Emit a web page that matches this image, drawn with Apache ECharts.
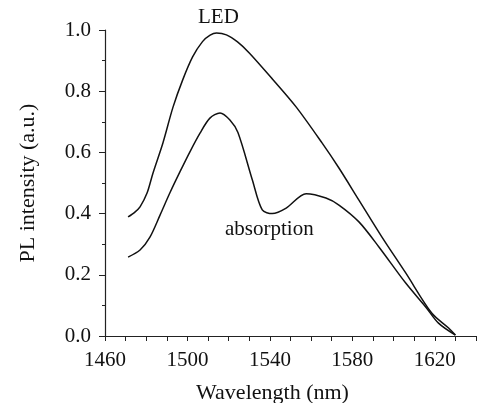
<!DOCTYPE html>
<html>
<head>
<meta charset="utf-8">
<script src="https://cdn.jsdelivr.net/npm/echarts@6/dist/echarts.min.js"></script>
<style>html,body{margin:0;padding:0;background:#fff}#c{width:477px;height:403px}</style>
</head>
<body>
<div id="c"></div>
<script>
const ledWavelength = [1471.2,1474.5,1477.0,1480.4,1483.3,1488.1,1493.0,1497.7,1502.5,1507.3,1511.0,1514.1,1518.9,1524.3,1530.0,1541.2,1552.8,1565.3,1573.5,1583.2,1594.3,1605.9,1618.5,1626.7,1630.0];
const ledIntensity = [0.389,0.405,0.422,0.467,0.533,0.631,0.748,0.837,0.912,0.962,0.983,0.990,0.984,0.961,0.925,0.840,0.748,0.631,0.549,0.444,0.324,0.206,0.075,0.026,0.003];
const absWavelength = [1471.2,1477.0,1481.8,1486.7,1491.5,1496.4,1501.2,1506.1,1510.9,1515.8,1520.6,1524.5,1531.5,1536.3,1541.2,1547.9,1557.6,1567.2,1573.5,1583.2,1592.9,1605.9,1615.6,1621.8,1630.0];
const absIntensity = [0.258,0.281,0.323,0.395,0.468,0.537,0.602,0.663,0.712,0.729,0.706,0.665,0.510,0.412,0.400,0.418,0.465,0.451,0.428,0.373,0.291,0.173,0.095,0.042,0.003];
const xTickLabels = [1460,1500,1540,1580,1620];
const yTickLabels = ['0.0','0.2','0.4','0.6','0.8','1.0'];

const font = 'Liberation Serif';
const chart = echarts.init(document.getElementById('c'));
const pair = (xs, ys) => xs.map((x, i) => [x, ys[i]]);
chart.setOption({
  animation: false,
  backgroundColor: '#fff',
  grid: {left: 105, right: 1, top: 30, bottom: 67, outerBoundsMode: 'none', containLabel: false},
  xAxis: {
    type: 'value', min: 1460, max: 1640, interval: 10,
    name: 'Wavelength (nm)', nameLocation: 'middle', nameGap: 46,
    nameTextStyle: {fontFamily: font, fontSize: 22, color: '#111', padding: [0, 36, 0, 0]},
    axisLine: {lineStyle: {color: '#222', width: 1.2}},
    axisTick: {show: true, length: 5, lineStyle: {color: '#222'}},
    axisLabel: {fontFamily: font, fontSize: 21, color: '#111', margin: 14,
      formatter: v => xTickLabels.indexOf(v) >= 0 ? String(v) : ''},
    splitLine: {show: false}
  },
  yAxis: {
    type: 'value', min: 0, max: 1.0, interval: 0.2,
    name: 'PL intensity (a.u.)', nameLocation: 'middle', nameGap: 66,
    nameTextStyle: {fontFamily: font, fontSize: 22, color: '#111'},
    axisLine: {show: true, lineStyle: {color: '#222', width: 1.2}},
    axisTick: {show: true, length: 6, lineStyle: {color: '#222'}},
    minorTick: {show: true, splitNumber: 2, length: 3, lineStyle: {color: '#222'}},
    axisLabel: {fontFamily: font, fontSize: 21, color: '#111', margin: 14,
      formatter: v => yTickLabels[Math.round(v / 0.2)]},
    splitLine: {show: false}
  },
  graphic: [
    {type: 'text', left: 198, top: 7, style: {text: 'LED', font: '21px "Liberation Serif"', fill: '#111'}},
    {type: 'text', left: 225, top: 219, style: {text: 'absorption', font: '21px "Liberation Serif"', fill: '#111'}}
  ],
  series: [
    {type: 'line', data: pair(ledWavelength, ledIntensity), smooth: 0.3, showSymbol: false,
      lineStyle: {color: '#111', width: 1.5}},
    {type: 'line', data: pair(absWavelength, absIntensity), smooth: 0.3, showSymbol: false,
      lineStyle: {color: '#111', width: 1.5}}
  ]
});
</script>
</body>
</html>
